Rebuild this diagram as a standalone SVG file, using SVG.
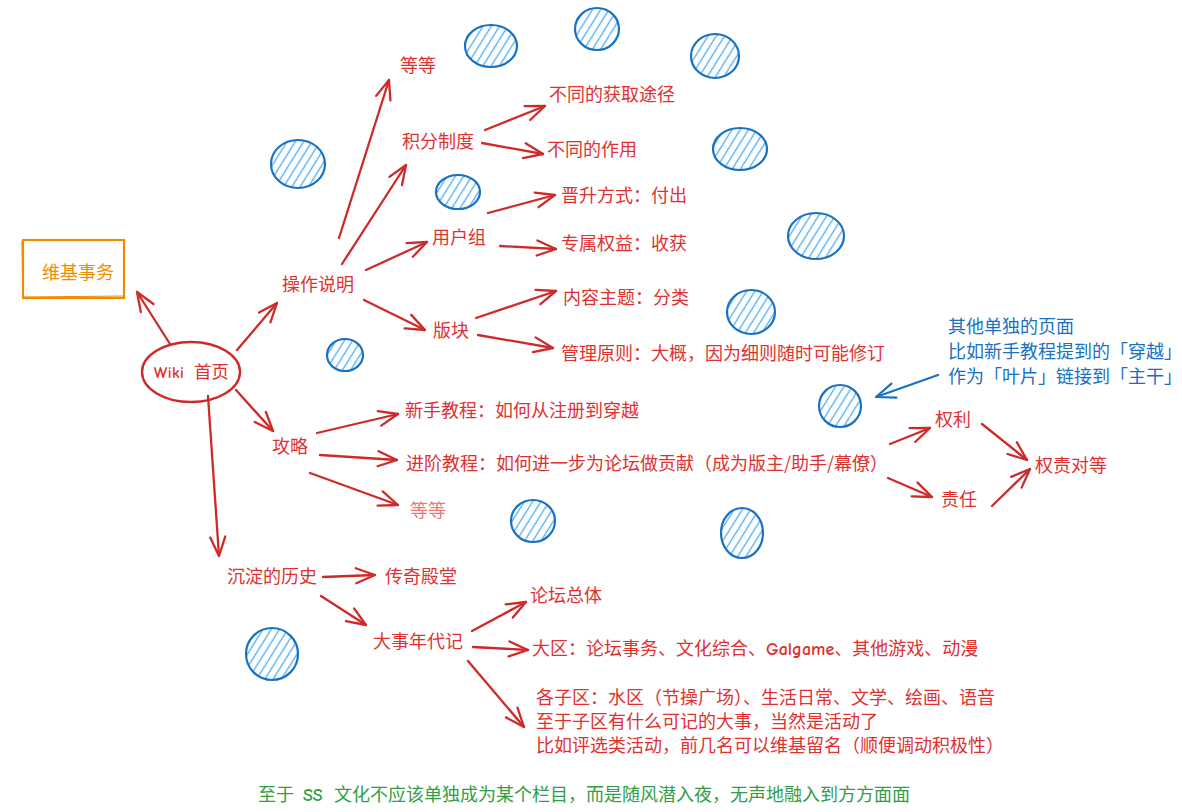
<svg xmlns="http://www.w3.org/2000/svg" width="1182" height="812" viewBox="0 0 1182 812">
<defs>
<style>
.t{font-family:"Noto Sans CJK SC","Noto Sans",sans-serif;font-size:18px;fill:#e03131}
.b{fill:#1971c2}
.hand{font-family:"Comic Neue","DejaVu Sans","Noto Sans",sans-serif}
.ar{fill:none;stroke:#cf2a2a;stroke-width:2.3;stroke-linecap:round;marker-end:url(#ah)}
.arb{fill:none;stroke:#1971c2;stroke-width:2.2;stroke-linecap:round;marker-end:url(#ahb)}
.c{fill:url(#hatch);stroke:#1971c2;stroke-width:2.2}
</style>
<pattern id="hatch" patternUnits="userSpaceOnUse" width="7" height="7" patternTransform="rotate(-58)">
<line x1="0" y1="3.5" x2="7" y2="3.5" stroke="#4dabf7" stroke-width="1.3"/>
</pattern>
<marker id="ah" markerUnits="userSpaceOnUse" orient="auto" overflow="visible" refX="0" refY="0" markerWidth="20" markerHeight="20">
<path d="M-19,-7.5 L0,0 L-19,7.5" fill="none" stroke="#cf2a2a" stroke-width="2.3" stroke-linecap="round" stroke-linejoin="round"/>
</marker>
<marker id="ahb" markerUnits="userSpaceOnUse" orient="auto" overflow="visible" refX="0" refY="0" markerWidth="20" markerHeight="20">
<path d="M-19,-7.5 L0,0 L-19,7.5" fill="none" stroke="#1971c2" stroke-width="2.2" stroke-linecap="round" stroke-linejoin="round"/>
</marker>
</defs>
<rect width="1182" height="812" fill="#ffffff"/>

<g id="connectors">
<path class="ar" d="M170,344 L137,292"/>
<path class="ar" d="M237,350 L277,303"/>
<path class="ar" d="M236,390 L273,431"/>
<path class="ar" d="M208,396 L219,556"/>
<path class="ar" d="M339,238 L389,80"/>
<path class="ar" d="M342,264 L406,165"/>
<path class="ar" d="M366,270 L427,242"/>
<path class="ar" d="M364,300 L425,330"/>
<path class="ar" d="M485,130 L545,106"/>
<path class="ar" d="M482,143 L543,154"/>
<path class="ar" d="M488,213 L555,195"/>
<path class="ar" d="M500,246 L556,249"/>
<path class="ar" d="M476,318 L556,291"/>
<path class="ar" d="M478,335 L553,348"/>
<path class="ar" d="M317,433 L398,414"/>
<path class="ar" d="M320,455 L397,460"/>
<path class="ar" d="M310,473 L398,505"/>
<path class="ar" d="M890,444 L930,428"/>
<path class="ar" d="M888,478 L932,497"/>
<path class="ar" d="M982,424 L1027,460"/>
<path class="ar" d="M992,506 L1030,469"/>
<path class="ar" d="M323,577 L375,575"/>
<path class="ar" d="M321,596 L366,625"/>
<path class="ar" d="M472,631 L526,602"/>
<path class="ar" d="M473,647 L528,650"/>
<path class="ar" d="M468,661 L524,727"/>
<path class="arb" d="M938,375 L876,397"/>
</g>

<g id="circles">
<ellipse class="c" cx="491" cy="46" rx="26" ry="21"/>
<ellipse class="c" cx="597" cy="29" rx="22" ry="21"/>
<ellipse class="c" cx="715" cy="56" rx="24" ry="22"/>
<ellipse class="c" cx="298" cy="164" rx="27" ry="24"/>
<ellipse class="c" cx="740" cy="149" rx="27" ry="21"/>
<ellipse class="c" cx="458" cy="192" rx="22" ry="17"/>
<ellipse class="c" cx="816" cy="236" rx="28" ry="23"/>
<ellipse class="c" cx="751" cy="312" rx="24" ry="22"/>
<ellipse class="c" cx="345" cy="355" rx="18" ry="16"/>
<ellipse class="c" cx="840" cy="406" rx="21" ry="21"/>
<ellipse class="c" cx="533" cy="521" rx="22" ry="21"/>
<ellipse class="c" cx="742" cy="533" rx="21" ry="25"/>
<ellipse class="c" cx="272" cy="654" rx="26" ry="26"/>
</g>

<g id="n-weiji">
<rect x="23" y="240" width="101" height="58" fill="none" stroke="#f08c00" stroke-width="2.2"/>
<path d="M24,297 L125,296 M22,241 L23,298" fill="none" stroke="#f08c00" stroke-width="1.2"/>
<text class="t" x="42" y="279" style="fill:#f08c00">维基事务</text>
</g>

<g id="n-home">
<ellipse cx="191" cy="372" rx="49" ry="30" fill="none" stroke="#cf2a2a" stroke-width="2.4"/>
<text class="t hand" x="154" y="378" style="font-size:15.5px;font-weight:bold;letter-spacing:0.5px">Wiki</text>
<text class="t" x="194" y="378" style="font-size:17.5px">首页</text>
</g>

<g id="n-caozuo"><text class="t" x="282" y="291">操作说明</text></g>
<g id="n-dengdeng1"><text class="t" x="400" y="72">等等</text></g>
<g id="n-jifen"><text class="t" x="402" y="148">积分制度</text></g>
<g id="n-huoqu"><text class="t" x="549" y="101">不同的获取途径</text></g>
<g id="n-zuoyong"><text class="t" x="547" y="156">不同的作用</text></g>
<g id="n-yonghuzu"><text class="t" x="432" y="244">用户组</text></g>
<g id="n-jinsheng"><text class="t" x="561" y="202">晋升方式：付出</text></g>
<g id="n-zhuanshu"><text class="t" x="561" y="250">专属权益：收获</text></g>
<g id="n-bankuai"><text class="t" x="433" y="337">版块</text></g>
<g id="n-neirong"><text class="t" x="563" y="304">内容主题：分类</text></g>
<g id="n-guanli"><text class="t" x="561" y="360">管理原则：大概，因为细则随时可能修订</text></g>
<g id="n-gonglue"><text class="t" x="272" y="453">攻略</text></g>
<g id="n-xinshou"><text class="t" x="405" y="417">新手教程：如何从注册到穿越</text></g>
<g id="n-jinjie"><text class="t" x="406" y="470">进阶教程：如何进一步为论坛做贡献（成为版主/助手/幕僚）</text></g>
<g id="n-dengdeng2"><text class="t" x="410" y="517" opacity="0.65">等等</text></g>
<g id="n-quanli"><text class="t" x="935" y="426">权利</text></g>
<g id="n-zeren"><text class="t" x="941" y="506">责任</text></g>
<g id="n-duideng"><text class="t" x="1035" y="472">权责对等</text></g>
<g id="n-note">
<text class="t b" x="948" y="333">其他单独的页面</text>
<text class="t b" x="948" y="358">比如新手教程提到的「穿越」</text>
<text class="t b" x="948" y="383">作为「叶片」链接到「主干」</text>
</g>
<g id="n-lishi"><text class="t" x="227" y="583">沉淀的历史</text></g>
<g id="n-chuanqi"><text class="t" x="385" y="583">传奇殿堂</text></g>
<g id="n-dashi"><text class="t" x="373" y="648">大事年代记</text></g>
<g id="n-zongti"><text class="t" x="530" y="602">论坛总体</text></g>
<g id="n-daqu"><text class="t" x="532" y="655">大区：论坛事务、文化综合、<tspan class="hand" style="font-size:18px;font-weight:bold">Galgame</tspan>、其他游戏、动漫</text></g>
<g id="n-ziqu">
<text class="t" x="536" y="704">各子区：水区（节操广场）、生活日常、文学、绘画、语音</text>
<text class="t" x="536" y="728">至于子区有什么可记的大事，当然是活动了</text>
<text class="t" x="536" y="752">比如评选类活动，前几名可以维基留名（顺便调动积极性）</text>
</g>
<g id="n-footer">
<text class="t" x="258" y="801" style="fill:#2f9e44">至于 <tspan class="hand" x="303" style="font-weight:bold">SS</tspan><tspan x="334">文化不应该单独成为某个栏目，而是随风潜入夜，无声地融入到方方面面</tspan></text>
</g>
</svg>
